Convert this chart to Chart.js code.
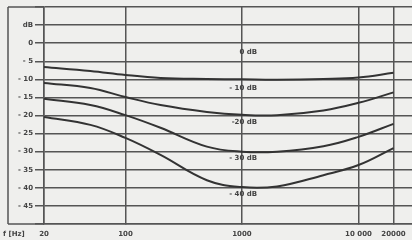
<!DOCTYPE html>
<html>
<head>
<meta charset="utf-8">
<script src="https://cdn.jsdelivr.net/npm/chart.js@4"></script>
<style>
  html, body { margin: 0; padding: 0; background: #efefed; }
  #wrap { width: 412px; height: 240px; position: relative; }
</style>
</head>
<body>
<div id="wrap"><canvas id="curvas"></canvas></div>
<script>
// Dados
const frequencias = [20, 50, 100, 200, 500, 1000, 2000, 5000, 10000, 20000]
const curva0 = [-6.6, -7.7, -8.8, -9.6, -9.9, -10.0, -10.1, -9.9, -9.5, -8.2]
const curva10 = [-11.0, -12.4, -14.9, -17.1, -19.0, -19.8, -19.9, -18.6, -16.5, -13.6]
const curva20 = [-15.4, -17.1, -19.9, -23.4, -28.6, -30.0, -30.0, -28.5, -25.9, -22.3]
const curva30 = [-20.4, -22.6, -26.2, -30.9, -37.9, -39.8, -39.6, -36.5, -33.7, -29.0]
const ticksX = [20, 100, 1000, 10000, 20000]
const rotulosX = ['20', '100', '1000', '10 000', '20000']
const rotulosCurvas = ['0 dB', '- 10 dB', '-20 dB', '- 30 dB', '- 40 dB']
const posRotulosDb = [-2.4, -12.4, -21.8, -31.7, -41.7]

const corLinha = '#555'
const corTexto = '#444'
const fonte = 'DejaVu Sans'

const pontos = vals => vals.map((v, i) => ({ x: frequencias[i], y: v }))

// Moldura externa e textos extras
const moldura = {
    id: 'moldura',
    afterDraw(chart) {
        const ctx = chart.ctx
        const a = chart.chartArea
        ctx.save()
        ctx.strokeStyle = corLinha
        ctx.lineWidth = 1.5
        ctx.beginPath()
        ctx.moveTo(8, a.top); ctx.lineTo(a.left, a.top)
        ctx.moveTo(8, a.bottom); ctx.lineTo(a.left, a.bottom)
        ctx.moveTo(8, a.top); ctx.lineTo(8, a.bottom)
        ctx.stroke()

        ctx.fillStyle = corTexto
        ctx.font = 'bold 7px ' + fonte
        ctx.textBaseline = 'middle'
        ctx.textAlign = 'left'
        ctx.fillText('f [Hz]', 3, 234)

        const sx = chart.scales.x, sy = chart.scales.y
        ctx.textAlign = 'right'
        rotulosCurvas.forEach((t, i) => {
            ctx.fillText(t, sx.getPixelForValue(1350), sy.getPixelForValue(posRotulosDb[i]))
        })
        ctx.restore()
    }
}

const estiloCurva = {
    borderColor: '#333',
    borderWidth: 2,
    pointRadius: 0,
    fill: false,
    tension: 0.4
}

let ctxCurvas = document.getElementById('curvas')
let graficoCurvas = new Chart(ctxCurvas, {
    type: 'line',
    data: {
        datasets: [
            { ...estiloCurva, data: pontos(curva0) },
            { ...estiloCurva, data: pontos(curva10) },
            { ...estiloCurva, data: pontos(curva20) },
            { ...estiloCurva, data: pontos(curva30) }
        ]
    },
    options: {
        responsive: true,
        maintainAspectRatio: false,
        animation: false,
        layout: { padding: { left: 8, top: 7, right: 0, bottom: 0 } },
        plugins: { legend: { display: false }, tooltip: { enabled: false } },
        scales: {
            x: {
                type: 'logarithmic',
                min: 20,
                max: 28800,
                afterBuildTicks: s => { s.ticks = ticksX.map(v => ({ value: v })) },
                afterFit: s => { s.height = 16 },
                grid: { color: corLinha, lineWidth: 1.5, tickLength: 0 },
                border: { color: corLinha, width: 1.5 },
                ticks: {
                    autoSkip: false,
                    maxRotation: 0,
                    padding: 6,
                    color: corTexto,
                    font: { family: fonte, size: 7, weight: 'bold' },
                    callback: (v) => {
                        const i = ticksX.indexOf(v)
                        return i >= 0 ? rotulosX[i] : ''
                    }
                }
            },
            y: {
                min: -50,
                max: 10,
                afterFit: s => { s.width = 36 },
                grid: { color: corLinha, lineWidth: 1.5, tickLength: 9 },
                border: { color: corLinha, width: 1.5 },
                ticks: {
                    stepSize: 5,
                    padding: 2,
                    color: corTexto,
                    font: { family: fonte, size: 7, weight: 'bold' },
                    callback: v => {
                        if (v === 10 || v === -50) return ''
                        if (v === 5) return 'dB'
                        if (v === 0) return '0'
                        return '- ' + Math.abs(v)
                    }
                }
            }
        }
    },
    plugins: [moldura]
})
</script>
</body>
</html>
